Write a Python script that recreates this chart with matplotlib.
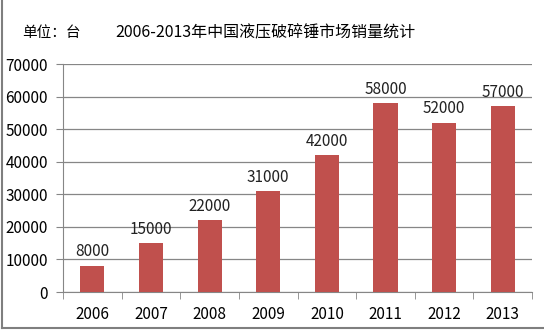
import matplotlib
matplotlib.use("Agg")
import matplotlib.pyplot as plt
from matplotlib.lines import Line2D

plt.rcParams['font.family'] = ['Noto Sans CJK SC', 'DejaVu Sans']

years = ["2006", "2007", "2008", "2009", "2010", "2011", "2012", "2013"]
sales = [8000, 15000, 22000, 31000, 42000, 58000, 52000, 57000]
yticks = [0, 10000, 20000, 30000, 40000, 50000, 60000, 70000]

fig = plt.figure(figsize=(5.44, 3.30), dpi=100)
ax = fig.add_axes([0.116, 0.115, 0.862, 0.691])

x = list(range(len(years)))
bars = ax.bar(x, sales, width=0.41, color="#C0504D", zorder=3)
for xi, v in zip(x, sales):
    ax.text(xi, v + 1700, str(v), ha="center", va="bottom", fontsize=11, color="#222222")

ax.set_xlim(-0.5, len(years) - 0.5)
ax.set_ylim(0, 70000)
ax.set_yticks(yticks)
ax.set_yticklabels([str(t) for t in yticks], fontsize=11)
ax.set_xticks(x)
ax.set_xticklabels(years, fontsize=11)
ax.tick_params(axis="x", length=0, pad=10)
ax.tick_params(axis="y", length=5, color="#868686", pad=6)

# category separators under the x axis
ax.set_xticks([i - 0.5 for i in range(len(years) + 1)], minor=True)
ax.tick_params(axis="x", which="minor", length=5, color="#868686")

ax.grid(axis="y", color="#868686", linewidth=0.9, zorder=0)
for side in ["top", "right"]:
    ax.spines[side].set_visible(False)
ax.spines["left"].set_color("#868686")
ax.spines["bottom"].set_color("#868686")

fig.text(0.04, 0.9, "单位：台", fontsize=10.5, va="center")
fig.text(0.488, 0.9, "2006-2013年中国液压破碎锤市场销量统计", fontsize=11.5, va="center", ha="center")

# outer frame on the left and bottom
fig.add_artist(Line2D([0.004, 0.004], [0.006, 1.0], transform=fig.transFigure, color="#7f7f7f", linewidth=1.5))
fig.add_artist(Line2D([0.004, 1.0], [0.006, 0.006], transform=fig.transFigure, color="#7f7f7f", linewidth=1.5))

fig.savefig("out.png", dpi=100, facecolor="white")
